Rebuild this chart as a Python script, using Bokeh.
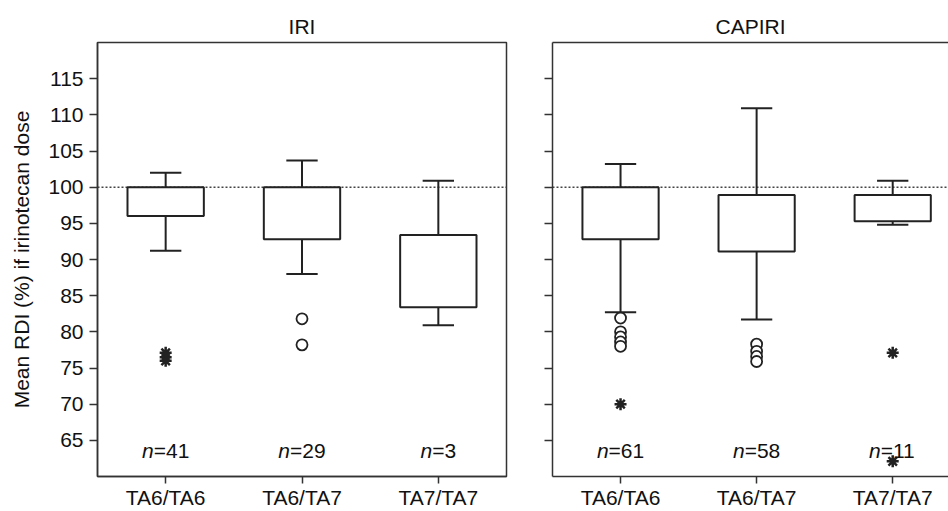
from bokeh.plotting import figure
from bokeh.layouts import row
from bokeh.models import FixedTicker, LinearAxis, Span, Range1d, ColumnDataSource
from bokeh.core.properties import value
from bokeh.embed import file_html
from bokeh.resources import INLINE

# ---------------- data ----------------
categories = ["TA6/TA6", "TA6/TA7", "TA7/TA7"]
y_ticks = [65, 70, 75, 80, 85, 90, 95, 100, 105, 110, 115]
ref_line = 100

# IRI panel
iri_q1 = [96.0, 92.8, 83.4]
iri_q3 = [100.0, 100.0, 93.4]
iri_low = [91.2, 88.0, 80.9]
iri_high = [102.0, 103.7, 100.9]
iri_out_cat = ["TA6/TA7", "TA6/TA7"]
iri_out_val = [81.8, 78.2]
iri_ext_cat = ["TA6/TA6", "TA6/TA6", "TA6/TA6"]
iri_ext_val = [77.1, 76.5, 76.0]
iri_n = [41, 29, 3]

# CAPIRI panel
cap_q1 = [92.8, 91.1, 95.3]
cap_q3 = [100.0, 98.9, 98.9]
cap_low = [82.7, 81.7, 94.8]
cap_high = [103.2, 110.9, 100.9]
cap_out_cat = ["TA6/TA6"] * 5 + ["TA6/TA7"] * 4
cap_out_val = [81.9, 80.0, 79.3, 78.6, 78.0, 78.3, 77.3, 76.6, 75.9]
cap_ext_cat = ["TA6/TA6", "TA7/TA7", "TA7/TA7"]
cap_ext_val = [70.0, 77.1, 62.1]
cap_n = [61, 58, 11]

# ---------------- style ----------------
FONT = "Liberation Sans"
FS = 21
INK = "#222222"
FRAME = "#333333"
BOX_W = 0.56
CAP_HALF = 0.115
N_LABEL_Y = 63.6

pos = {c: i + 1 for i, c in enumerate(categories)}
x_pos = [pos[c] for c in categories]


def style_axes(p, show_ylabels):
    p.xgrid.visible = False
    p.ygrid.visible = False
    p.background_fill_color = "white"
    p.border_fill_color = "white"
    for ax in p.xaxis:
        ax.ticker = FixedTicker(ticks=x_pos)
        ax.major_label_overrides = {pos[c]: c for c in categories}
        ax.major_tick_out = 7
        ax.major_tick_in = 0
        ax.minor_tick_line_color = None
        ax.axis_line_color = FRAME
        ax.axis_line_width = 1.5
        ax.major_tick_line_color = FRAME
        ax.major_tick_line_width = 1.5
        ax.major_label_text_font = FONT
        ax.major_label_text_font_size = f"{FS}px"
        ax.major_label_text_color = "#111111"
        ax.major_label_standoff = 2
    for ax in p.yaxis:
        ax.ticker = FixedTicker(ticks=y_ticks)
        ax.major_tick_out = 8
        ax.major_tick_in = 0
        ax.minor_tick_line_color = None
        ax.axis_line_color = FRAME
        ax.axis_line_width = 1.5
        ax.major_tick_line_color = FRAME
        ax.major_tick_line_width = 1.5
        ax.major_label_text_font = FONT
        ax.major_label_text_font_size = f"{FS}px"
        ax.major_label_text_color = "#111111"
        ax.major_label_standoff = 6
        if not show_ylabels:
            ax.major_label_overrides = {t: "" for t in y_ticks}


def draw_panel(p, q1, q3, low, high, out_cat, out_val, ext_cat, ext_val, ns):
    p.add_layout(Span(location=ref_line, dimension="width", line_color="#444444",
                      line_width=1.5, line_dash="2 2", level="underlay"))
    # whiskers
    p.segment(x0=x_pos, y0=q3, x1=x_pos, y1=high, line_color=INK, line_width=2)
    p.segment(x0=x_pos, y0=q1, x1=x_pos, y1=low, line_color=INK, line_width=2)
    p.segment(x0=[x - CAP_HALF for x in x_pos], y0=high,
              x1=[x + CAP_HALF for x in x_pos], y1=high, line_color=INK, line_width=2)
    p.segment(x0=[x - CAP_HALF for x in x_pos], y0=low,
              x1=[x + CAP_HALF for x in x_pos], y1=low, line_color=INK, line_width=2)
    # boxes
    p.vbar(x=x_pos, width=BOX_W, bottom=q1, top=q3, fill_color="white",
           line_color=INK, line_width=2)
    # outliers and extremes
    p.scatter(x=[pos[c] for c in out_cat], y=out_val, marker="circle", size=11,
              fill_color="white", line_color=INK, line_width=1.8)
    p.scatter(x=[pos[c] for c in ext_cat], y=ext_val, marker="asterisk", size=12,
              line_color=INK, line_width=2.5)
    # n labels
    w_n = 0.556 * FS
    offs = [(w_n - (0.584 + 0.556 * len(str(n))) * FS) / 2 for n in ns]
    src = ColumnDataSource(dict(x=x_pos, y=[N_LABEL_Y] * len(ns), n=["n"] * len(ns),
                                rest=[f"={n}" for n in ns], off=offs))
    p.text(x="x", y="y", text="n", source=src, x_offset="off", text_align="right",
           text_baseline="alphabetic", text_font=value(FONT), text_font_size=f"{FS}px",
           text_font_style="italic", text_color="#111111")
    p.text(x="x", y="y", text="rest", source=src, x_offset="off", text_align="left",
           text_baseline="alphabetic", text_font=value(FONT), text_font_size=f"{FS}px",
           text_color="#111111")


# left panel
p1 = figure(width=516, height=511, x_range=Range1d(0.5, 3.5), y_range=Range1d(60, 120),
            output_backend="svg", toolbar_location=None, title="IRI",
            min_border_left=97, min_border_right=10, min_border_top=42, min_border_bottom=35)
p1.outline_line_color = FRAME
p1.outline_line_width = 1.5
style_axes(p1, True)
p1.yaxis.axis_label = "Mean RDI (%) if irinotecan dose"
p1.yaxis.axis_label_text_font = FONT
p1.yaxis.axis_label_text_font_size = f"{FS}px"
p1.yaxis.axis_label_text_font_style = "normal"
p1.yaxis.axis_label_text_color = "#111111"
p1.yaxis.axis_label_standoff = 12
draw_panel(p1, iri_q1, iri_q3, iri_low, iri_high, iri_out_cat, iri_out_val,
           iri_ext_cat, iri_ext_val, iri_n)

# right panel
p2 = figure(width=432, height=511, x_range=Range1d(0.5, 3.41), y_range=Range1d(60, 120),
            output_backend="svg", toolbar_location=None, title="CAPIRI",
            min_border_left=36, min_border_right=0, min_border_top=42, min_border_bottom=35)
p2.outline_line_color = None
style_axes(p2, False)
top_axis = LinearAxis(ticker=FixedTicker(ticks=[]), major_tick_out=0, major_tick_in=0,
                      minor_tick_line_color=None, axis_line_color=FRAME, axis_line_width=1.5,
                      major_label_text_font_size="0px")
p2.add_layout(top_axis, "above")
draw_panel(p2, cap_q1, cap_q3, cap_low, cap_high, cap_out_cat, cap_out_val,
           cap_ext_cat, cap_ext_val, cap_n)

for p in (p1, p2):
    p.title.align = "center"
    p.title.text_font = FONT
    p.title.text_font_size = f"{FS}px"
    p.title.text_font_style = "normal"
    p.title.text_color = "#111111"
    p.title.standoff = 9

layout = row(p1, p2, spacing=0)
open("out.html", "w").write(file_html(layout, INLINE))
